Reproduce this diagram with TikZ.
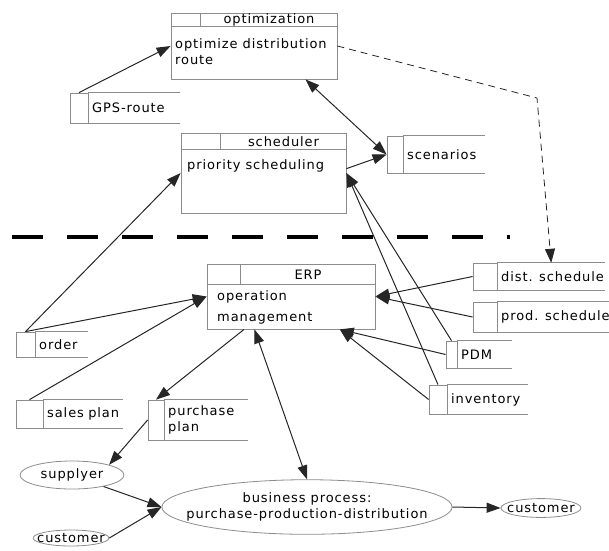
\documentclass[tikz,border=0pt]{standalone}
\usepackage{fontspec}
\setmainfont{DejaVu Sans}[LetterSpace=7]
\usetikzlibrary{arrows.meta,shapes.geometric}
\tikzset{
  boxline/.style={draw=black!45, line width=0.8pt},
  cls/.style={boxline, inner sep=0pt},
  cell/.style={boxline, inner sep=0pt},
  flabel/.style={anchor=west, inner xsep=4pt, inner ysep=0pt, align=left},
  blob/.style={ellipse, boxline, align=center},
  flow/.style={-{Triangle[length=14pt,width=10pt]}, draw=black!85, line width=1pt},
  both/.style={{Triangle[length=14pt,width=10pt]}-{Triangle[length=14pt,width=10pt]}, draw=black!85, line width=1pt},
  sep/.style={line width=3.8pt, dash pattern=on 31pt off 24pt},
}
\begin{document}
\begin{tikzpicture}[x=1pt,y=-1pt,font=\fontsize{13pt}{16pt}\selectfont]
  \useasboundingbox (0,0) rectangle (609,550);

  % class boxes
  \node[cls, minimum width=166pt, minimum height=66pt] (opt) at (254,46) {};
  \draw[boxline] ([yshift=-14pt]opt.north west) -- ([yshift=-14pt]opt.north east);
  \draw[boxline] ([xshift=30pt]opt.north west) -- ++(0,14);
  \node (opthd) at (269,20) {optimization};
  \node[anchor=west, align=left, inner sep=0pt] (opttxt) at (175,52) {optimize distribution\\route};

  \node[cls, minimum width=165pt, minimum height=80pt] (sched) at (263.5,173) {};
  \draw[boxline] ([yshift=-17pt]sched.north west) -- ([yshift=-17pt]sched.north east);
  \draw[boxline] ([xshift=40pt]sched.north west) -- ++(0,17);
  \node (schedhd) at (283.5,141.5) {scheduler};
  \node[anchor=west, inner sep=0pt] (schedtxt) at (187,166) {priority scheduling};

  \node[cls, minimum width=168pt, minimum height=65pt] (erp) at (291,296.5) {};
  \draw[boxline] ([yshift=-21pt]erp.north west) -- ([yshift=-21pt]erp.north east);
  \draw[boxline] ([xshift=34pt]erp.north west) -- ++(0,21);
  \node (erphd) at (308,274.5) {ERP};
  \node[anchor=west, align=left, inner sep=0pt] (erptxt) at (217,307) {operation\\[5pt]management};

  % file boxes
  \node[cell, minimum width=18pt, minimum height=30pt] (gps) at (79,108) {};
  \node[flabel, text width=84pt, minimum height=30pt] (gpstxt) at (88,108) {GPS-route};
  \node[cell, minimum width=16pt, minimum height=37pt] (scen) at (395,154.5) {};
  \node[flabel, text width=74pt, minimum height=37pt] (scentxt) at (403,154.5) {scenarios};
  \node[cell, minimum width=24pt, minimum height=27pt] (dist) at (485,276.5) {};
  \node[flabel, text width=100pt, minimum height=27pt] (disttxt) at (497,276.5) {\mbox{dist. schedule}};
  \node[cell, minimum width=24pt, minimum height=30pt] (prod) at (485,317) {};
  \node[flabel, text width=104pt, minimum height=30pt] (prodtxt) at (497,317) {\mbox{prod. schedule}};
  \node[cell, minimum width=11pt, minimum height=27pt] (pdm) at (451.5,354.5) {};
  \node[flabel, text width=47pt, minimum height=27pt] (pdmtxt) at (457,354.5) {PDM};
  \node[cell, minimum width=18pt, minimum height=29pt] (inv) at (438,399.5) {};
  \node[flabel, text width=73pt, minimum height=29pt] (invtxt) at (447,399.5) {inventory};
  \node[cell, minimum width=19pt, minimum height=25pt] (order) at (25.5,344.5) {};
  \node[flabel, text width=45pt, minimum height=25pt] (ordertxt) at (35,344.5) {order};
  \node[cell, minimum width=27pt, minimum height=28pt] (sales) at (29.5,414) {};
  \node[flabel, text width=72pt, minimum height=28pt] (salestxt) at (43,414) {sales plan};
  \node[cell, minimum width=16pt, minimum height=40pt] (purch) at (156,420) {};
  \node[flabel, text width=76pt, minimum height=40pt] (purchtxt) at (164,420) {purchase\\plan};
  \foreach \f in {gpstxt,scentxt,disttxt,prodtxt,pdmtxt,invtxt,ordertxt,salestxt,purchtxt}
    \draw[boxline] (\f.north west) -- (\f.north east) (\f.south west) -- (\f.south east);

  % processes
  \node[blob, inner sep=0pt, minimum width=104pt, minimum height=28pt] (supp) at (72,475) {supplyer};
  \node[blob, inner xsep=-7pt, inner ysep=1pt] (custl) at (71,538) {customer};
  \node[blob, inner xsep=-18pt, inner ysep=5pt] (bp) at (307,507) {business process:\\purchase-production-distribution};
  \node[blob, inner xsep=-5.5pt, inner ysep=2pt] (custr) at (541,508) {customer};

  % separator
  \draw[sep] (12,237) -- (510,237);

  % connectors
  \coordinate (bend) at (537,98);
  \draw[flow] (gps.north) -- (opt.west);
  \draw[both] (opt.-33) -- (scen.west);
  \draw[flow] (sched.3) -- (scen.west);
  \draw[flow, line width=0.8pt, dash pattern=on 7pt off 5pt] (opt.east) -- (bend) -- (disttxt.north);
  \draw[flow] (pdm.north) -- (sched.east);
  \draw[flow] (inv.north) -- (sched.east);
  \draw[flow] (order.north) -- (sched.west);
  \draw[flow] (order.north) -- (erp.west);
  \draw[flow] (sales.north) -- (erp.west);
  \draw[flow] (dist.west) -- (erp.east);
  \draw[flow] (prod.west) -- (erp.east);
  \draw[flow] (pdm.west) -- (erp.-34);
  \draw[flow] (inv.west) -- (erp.-34);
  \draw[flow] (erp.215) -- (purch.north);
  \draw[both] (erp.222) -- (bp.north);
  \draw[flow] (purch.west) -- (supp.north east);
  \draw[flow] (supp.-20) -- (bp.west);
  \draw[flow] (custl.east) -- (bp.west);
  \draw[flow] (bp.east) -- (custr.west);
\end{tikzpicture}
\end{document}
